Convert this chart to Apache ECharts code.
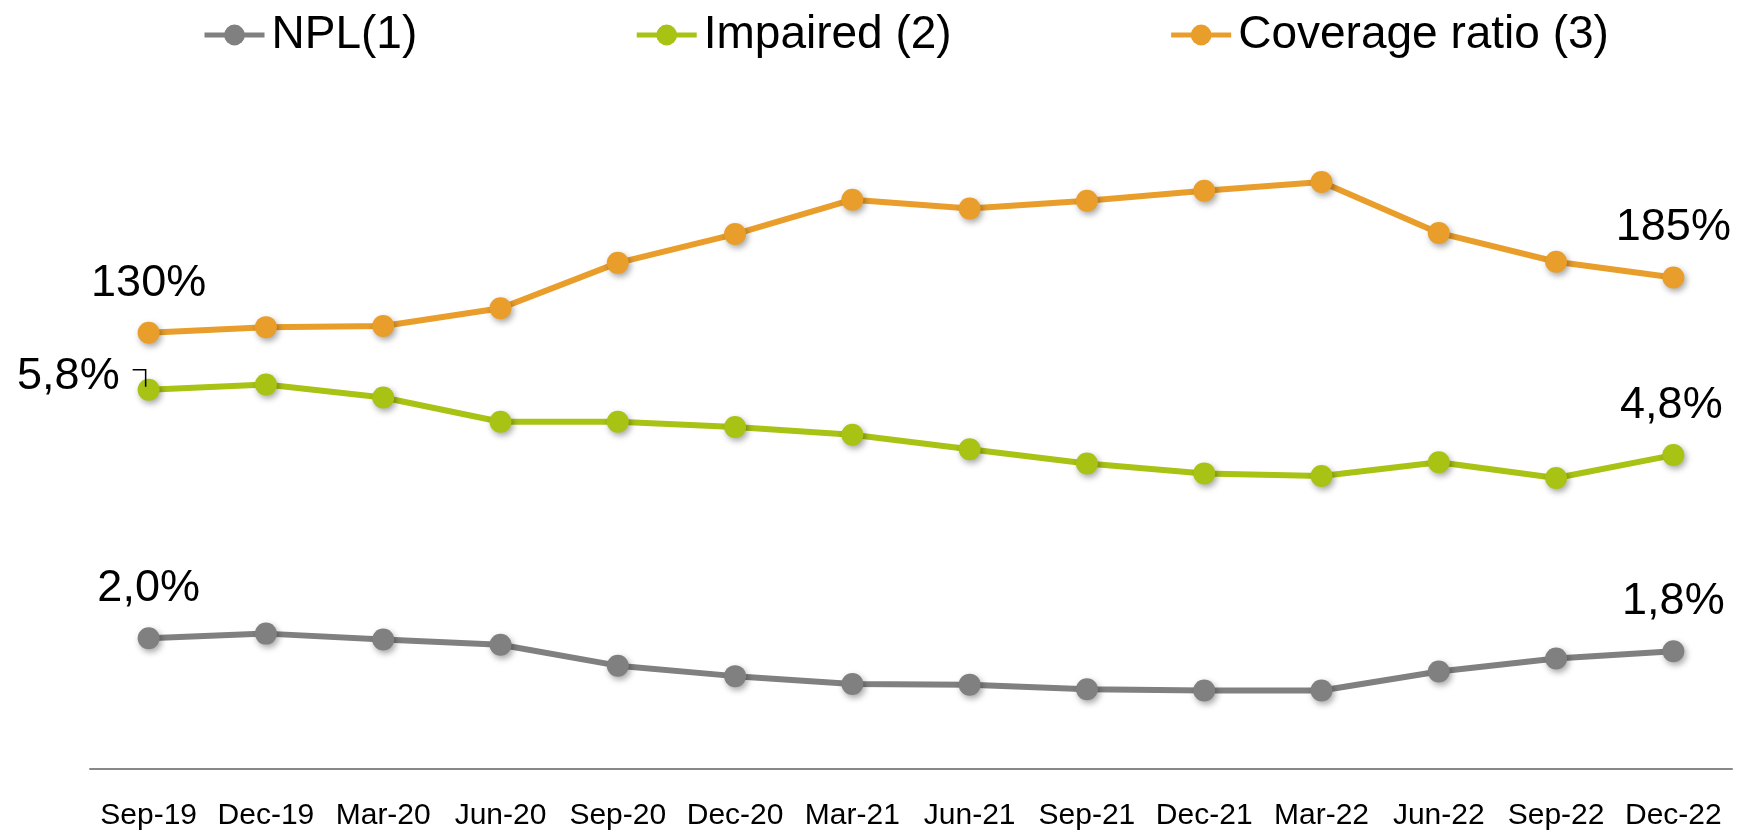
<!DOCTYPE html>
<html>
<head>
<meta charset="utf-8">
<script src="https://cdn.jsdelivr.net/npm/echarts@6/dist/echarts.min.js"></script>
<style>
  html, body { margin: 0; padding: 0; background: #ffffff; }
  #chart { width: 1743px; height: 831px; }
</style>
</head>
<body>
<div id="chart"></div>
<script>
// Quarterly asset-quality ratios (%)
const quarters = ['Sep-19', 'Dec-19', 'Mar-20', 'Jun-20', 'Sep-20', 'Dec-20', 'Mar-21',
                  'Jun-21', 'Sep-21', 'Dec-21', 'Mar-22', 'Jun-22', 'Sep-22', 'Dec-22'];
const npl = [2.0, 2.07, 1.98, 1.90, 1.58, 1.42, 1.30, 1.29, 1.22, 1.20, 1.20, 1.49, 1.69, 1.8];
const impaired = [5.8, 5.88, 5.68, 5.31, 5.31, 5.23, 5.11, 4.89, 4.67, 4.52, 4.48, 4.69, 4.45, 4.8];
const coverage = [130, 135.5, 136.6, 154.3, 199.6, 228.3, 262.6, 253.8, 261.5, 271.4, 280.3, 229.4, 200.7, 185];

const seriesNames = ['NPL(1)', 'Impaired (2)', 'Coverage ratio (3)'];
const colors = ['#808080', '#a8c314', '#e99e2b'];

const FONT = '"Liberation Sans", Arial, Helvetica, sans-serif';

function pct1(v) { return v.toFixed(1).replace('.', ',') + '%'; }
function pct0(v) { return Math.round(v) + '%'; }

// Only the first and last points carry a value label
function withEndLabels(values, fmt, firstLabel, lastLabel) {
  return values.map((v, i) => {
    if (i === 0) return { value: v, label: Object.assign({ show: true, formatter: () => fmt(v) }, firstLabel) };
    if (i === values.length - 1) return { value: v, label: Object.assign({ show: true, formatter: () => fmt(v) }, lastLabel) };
    return v;
  });
}

const labelText = { color: '#000', fontFamily: FONT, fontSize: 45 };

function lineSeries(idx, data, yAxisIndex) {
  return {
    name: seriesNames[idx],
    type: 'line',
    yAxisIndex: yAxisIndex,
    data: data,
    symbol: 'circle',
    symbolSize: 22,
    lineStyle: { color: colors[idx], width: 6 },
    itemStyle: {
      color: colors[idx],
      shadowBlur: 6,
      shadowColor: 'rgba(0,0,0,0.35)',
      shadowOffsetX: 2,
      shadowOffsetY: 3
    },
    label: Object.assign({ show: false, position: 'top', distance: 16 }, labelText),
    emphasis: { disabled: true },
    animation: false,
    z: 3
  };
}

const chart = echarts.init(document.getElementById('chart'), null, { renderer: 'canvas' });

chart.setOption({
  backgroundColor: '#ffffff',
  color: colors,
  legend: {
    data: seriesNames,
    left: 197,
    top: 7,
    itemWidth: 60,
    itemHeight: 26,
    itemGap: 217,
    lineStyle: { width: 5 },
    textStyle: { color: '#000', fontFamily: FONT, fontSize: 46, padding: [0, 0, 0, 2] }
  },
  grid: { left: 90, right: 11, top: 115, bottom: 60, containLabel: false },
  xAxis: {
    type: 'category',
    data: quarters,
    boundaryGap: true,
    axisLine: { show: true, lineStyle: { color: '#888888', width: 2 } },
    axisTick: { show: false },
    axisLabel: { color: '#000', fontFamily: FONT, fontSize: 30, margin: 32, interval: 0 },
    splitLine: { show: false }
  },
  yAxis: [
    { type: 'value', min: 0, max: 10, show: false, splitLine: { show: false } },
    { type: 'value', min: -305, max: 347, show: false, splitLine: { show: false } }
  ],
  series: [
    lineSeries(0, withEndLabels(npl, pct1, {}, {}), 0),
    lineSeries(1, withEndLabels(impaired, pct1,
      { position: 'left', distance: 18, offset: [0, -13] },
      { offset: [-2, 0] }), 0),
    lineSeries(2, withEndLabels(coverage, pct0, {}, {}), 1)
  ]
});

// Small elbow connector from the first "Impaired" label down to its point
const p0 = chart.convertToPixel({ xAxisIndex: 0, yAxisIndex: 0 }, [quarters[0], impaired[0]]);
chart.setOption({
  graphic: [{
    type: 'polyline',
    z: 10,
    shape: { points: [[p0[0] - 16, p0[1] - 20], [p0[0] - 3, p0[1] - 20], [p0[0] - 3, p0[1] - 3]] },
    style: { stroke: '#000', lineWidth: 1.5, fill: null }
  }]
});
</script>
</body>
</html>
